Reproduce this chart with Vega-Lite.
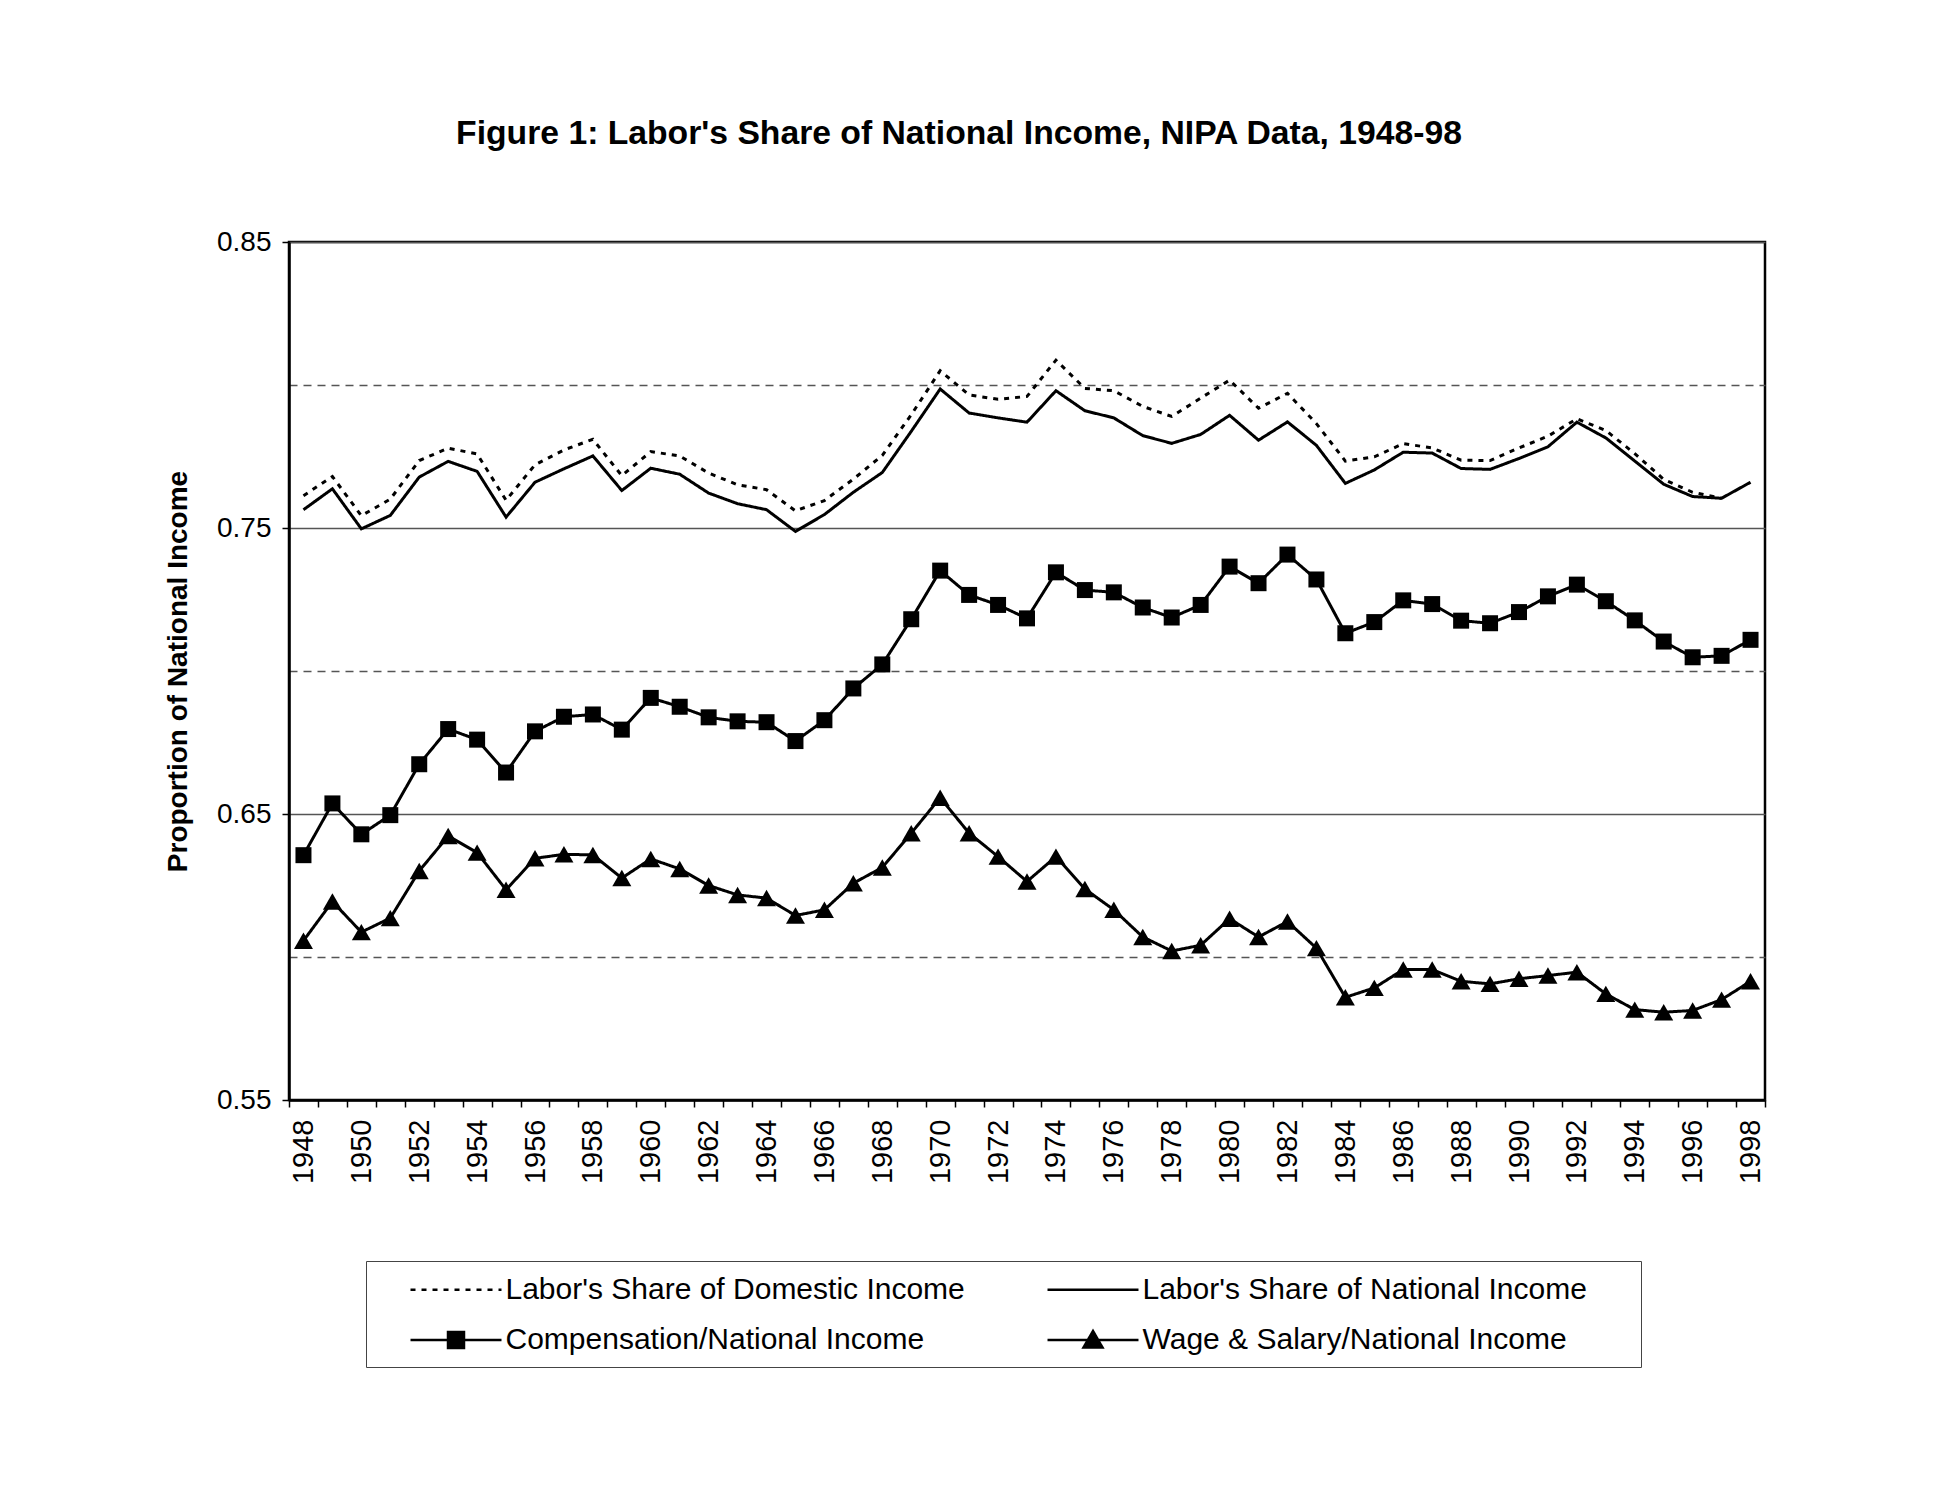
{
  "$schema": "https://vega.github.io/schema/vega-lite/v6.json",
  "width": 1476,
  "height": 858,
  "autosize": {"type": "none"},
  "padding": {"left": 289, "top": 242, "right": 173, "bottom": 405},
  "background": "white",
  "title": {
    "text": "Figure 1: Labor's Share of National Income, NIPA Data, 1948-98",
    "font": "Liberation Sans", "fontSize": 33.7, "fontWeight": "bold", "color": "black",
    "anchor": "middle", "frame": "group", "dx": -68, "offset": 77.5
  },
  "config": {
    "view": {"stroke": "black", "strokeWidth": 2.5},
    "font": "Liberation Sans",
    "axis": {
      "labelFont": "Liberation Sans", "titleFont": "Liberation Sans",
      "labelColor": "black", "titleColor": "black",
      "domainColor": "black", "domainWidth": 2.5,
      "tickColor": "black", "tickWidth": 1.5
    }
  },
  "data": {
    "values": [
      {"yr": 1948, "D": 0.7613, "N": 0.7564, "C": 0.6356, "W": 0.6057},
      {"yr": 1949, "D": 0.7680, "N": 0.7637, "C": 0.6537, "W": 0.6194},
      {"yr": 1950, "D": 0.7543, "N": 0.7497, "C": 0.6429, "W": 0.6087},
      {"yr": 1951, "D": 0.7601, "N": 0.7544, "C": 0.6496, "W": 0.6136},
      {"yr": 1952, "D": 0.7736, "N": 0.7678, "C": 0.6674, "W": 0.6301},
      {"yr": 1953, "D": 0.7779, "N": 0.7733, "C": 0.6797, "W": 0.6423},
      {"yr": 1954, "D": 0.7759, "N": 0.7698, "C": 0.6760, "W": 0.6365},
      {"yr": 1955, "D": 0.7597, "N": 0.7538, "C": 0.6645, "W": 0.6235},
      {"yr": 1956, "D": 0.7721, "N": 0.7660, "C": 0.6789, "W": 0.6345},
      {"yr": 1957, "D": 0.7773, "N": 0.7707, "C": 0.6840, "W": 0.6359},
      {"yr": 1958, "D": 0.7810, "N": 0.7752, "C": 0.6848, "W": 0.6357},
      {"yr": 1959, "D": 0.7683, "N": 0.7631, "C": 0.6795, "W": 0.6276},
      {"yr": 1960, "D": 0.7767, "N": 0.7709, "C": 0.6906, "W": 0.6343},
      {"yr": 1961, "D": 0.7752, "N": 0.7688, "C": 0.6875, "W": 0.6308},
      {"yr": 1962, "D": 0.7692, "N": 0.7622, "C": 0.6838, "W": 0.6250},
      {"yr": 1963, "D": 0.7651, "N": 0.7585, "C": 0.6824, "W": 0.6217},
      {"yr": 1964, "D": 0.7634, "N": 0.7564, "C": 0.6821, "W": 0.6206},
      {"yr": 1965, "D": 0.7560, "N": 0.7488, "C": 0.6755, "W": 0.6145},
      {"yr": 1966, "D": 0.7596, "N": 0.7547, "C": 0.6828, "W": 0.6165},
      {"yr": 1967, "D": 0.7671, "N": 0.7625, "C": 0.6939, "W": 0.6258},
      {"yr": 1968, "D": 0.7754, "N": 0.7694, "C": 0.7023, "W": 0.6313},
      {"yr": 1969, "D": 0.7896, "N": 0.7838, "C": 0.7181, "W": 0.6433},
      {"yr": 1970, "D": 0.8050, "N": 0.7986, "C": 0.7351, "W": 0.6557},
      {"yr": 1971, "D": 0.7965, "N": 0.7902, "C": 0.7266, "W": 0.6433},
      {"yr": 1972, "D": 0.7950, "N": 0.7885, "C": 0.7231, "W": 0.6351},
      {"yr": 1973, "D": 0.7960, "N": 0.7870, "C": 0.7184, "W": 0.6264},
      {"yr": 1974, "D": 0.8087, "N": 0.7980, "C": 0.7345, "W": 0.6351},
      {"yr": 1975, "D": 0.7988, "N": 0.7910, "C": 0.7283, "W": 0.6238},
      {"yr": 1976, "D": 0.7980, "N": 0.7885, "C": 0.7275, "W": 0.6165},
      {"yr": 1977, "D": 0.7925, "N": 0.7823, "C": 0.7222, "W": 0.6070},
      {"yr": 1978, "D": 0.7890, "N": 0.7796, "C": 0.7187, "W": 0.6021},
      {"yr": 1979, "D": 0.7954, "N": 0.7827, "C": 0.7231, "W": 0.6041},
      {"yr": 1980, "D": 0.8017, "N": 0.7894, "C": 0.7365, "W": 0.6134},
      {"yr": 1981, "D": 0.7919, "N": 0.7807, "C": 0.7307, "W": 0.6070},
      {"yr": 1982, "D": 0.7971, "N": 0.7871, "C": 0.7407, "W": 0.6124},
      {"yr": 1983, "D": 0.7865, "N": 0.7789, "C": 0.7320, "W": 0.6031},
      {"yr": 1984, "D": 0.7734, "N": 0.7656, "C": 0.7132, "W": 0.5859},
      {"yr": 1985, "D": 0.7749, "N": 0.7703, "C": 0.7171, "W": 0.5892},
      {"yr": 1986, "D": 0.7795, "N": 0.7765, "C": 0.7247, "W": 0.5956},
      {"yr": 1987, "D": 0.7780, "N": 0.7762, "C": 0.7234, "W": 0.5956},
      {"yr": 1988, "D": 0.7737, "N": 0.7708, "C": 0.7176, "W": 0.5915},
      {"yr": 1989, "D": 0.7736, "N": 0.7705, "C": 0.7167, "W": 0.5906},
      {"yr": 1990, "D": 0.7780, "N": 0.7743, "C": 0.7206, "W": 0.5924},
      {"yr": 1991, "D": 0.7821, "N": 0.7784, "C": 0.7261, "W": 0.5935},
      {"yr": 1992, "D": 0.7882, "N": 0.7870, "C": 0.7302, "W": 0.5947},
      {"yr": 1993, "D": 0.7841, "N": 0.7815, "C": 0.7244, "W": 0.5871},
      {"yr": 1994, "D": 0.7760, "N": 0.7734, "C": 0.7177, "W": 0.5816},
      {"yr": 1995, "D": 0.7670, "N": 0.7653, "C": 0.7103, "W": 0.5807},
      {"yr": 1996, "D": 0.7625, "N": 0.7610, "C": 0.7048, "W": 0.5813},
      {"yr": 1997, "D": 0.7604, "N": 0.7604, "C": 0.7053, "W": 0.5851},
      {"yr": 1998, "D": null, "N": 0.7660, "C": 0.7109, "W": 0.5915}
    ]
  },
  "transform": [{"fold": ["D", "N", "C", "W"], "as": ["s", "v"]}],
  "encoding": {
    "x": {
      "field": "yr", "type": "ordinal", "bandPosition": 0.5,
      "scale": {"type": "band", "paddingInner": 0, "paddingOuter": 0},
      "axis": {
        "title": null, "labelAngle": 270, "labelFontSize": 29,
        "labelExpr": "datum.value % 2 == 0 ? datum.label : ''",
        "labelOverlap": false, "tickBand": "extent", "tickSize": 7,
        "labelPadding": 12, "grid": false
      }
    },
    "y": {
      "field": "v", "type": "quantitative",
      "scale": {"domain": [0.55, 0.85], "nice": false, "zero": false},
      "axis": {
        "title": "Proportion of National Income", "titleFontSize": 28, "titleFontWeight": "bold", "titlePadding": 24,
        "values": [0.55, 0.6, 0.65, 0.7, 0.75, 0.8, 0.85], "format": ".2f",
        "labelExpr": "(datum.value == 0.6 || datum.value == 0.7 || datum.value == 0.8) ? '' : datum.label",
        "labelFontSize": 28, "labelPadding": 11,
        "tickSize": {"condition": {"test": "datum.value == 0.6 || datum.value == 0.7 || datum.value == 0.8", "value": 0}, "value": 7},
        "grid": true, "gridColor": "#555", "gridWidth": 1.5,
        "gridDash": {"condition": {"test": "datum.value == 0.6 || datum.value == 0.7 || datum.value == 0.8", "value": [8, 6]}, "value": []}
      }
    }
  },
  "layer": [
    {
      "mark": {"type": "line", "color": "black", "strokeWidth": 3},
      "encoding": {
        "strokeDash": {
          "field": "s", "type": "nominal",
          "scale": {"domain": ["D", "N", "C", "W"], "range": [[5, 6], [1, 0], [1, 0], [1, 0]]},
          "legend": {
            "title": null, "orient": "none", "legendX": 77, "legendY": 1019,
            "direction": "horizontal", "columns": 2,
            "labelFont": "Liberation Sans", "labelFontSize": 30, "labelColor": "black",
            "labelLimit": 2000, "labelOffset": 33,
            "symbolOffset": 61.5, "columnPadding": 50, "rowPadding": 18.5, "padding": 12,
            "strokeColor": "#444", "fillColor": "white",
            "symbolSize": 900, "symbolStrokeWidth": 2.5, "symbolStrokeColor": "black", "symbolFillColor": "black",
            "labelExpr": "datum.value == 'D' ? \"Labor's Share of Domestic Income\" : datum.value == 'N' ? \"Labor's Share of National Income\u00a0\u00a0\u00a0\u00a0\u00a0\u200b\" : datum.value == 'C' ? 'Compensation/National Income' : 'Wage & Salary/National Income'",
            "encode": {
              "symbols": {
                "update": {
                  "shape": {"signal": "datum.value == 'C' ? 'M-3.033,0H3.033M-0.533,-0.533H0.533V0.533H-0.533Z' : datum.value == 'W' ? 'M-3.033,0H3.033M0,-0.6L0.633,0.5H-0.633Z' : 'M-3.033,0H3.033'"},
                  "fill": {"value": "black"},
                  "stroke": {"value": "black"},
                  "strokeWidth": {"value": 2.5}
                }
              }
            }
          }
        }
      }
    },
    {
      "transform": [{"filter": "datum.s == 'C'"}],
      "mark": {"type": "point", "shape": "square", "filled": true, "color": "black", "size": 256, "opacity": 1}
    },
    {
      "transform": [{"filter": "datum.s == 'W'"}],
      "mark": {"type": "point", "shape": "triangle-up", "filled": true, "color": "black", "size": 361, "opacity": 1}
    }
  ]
}
